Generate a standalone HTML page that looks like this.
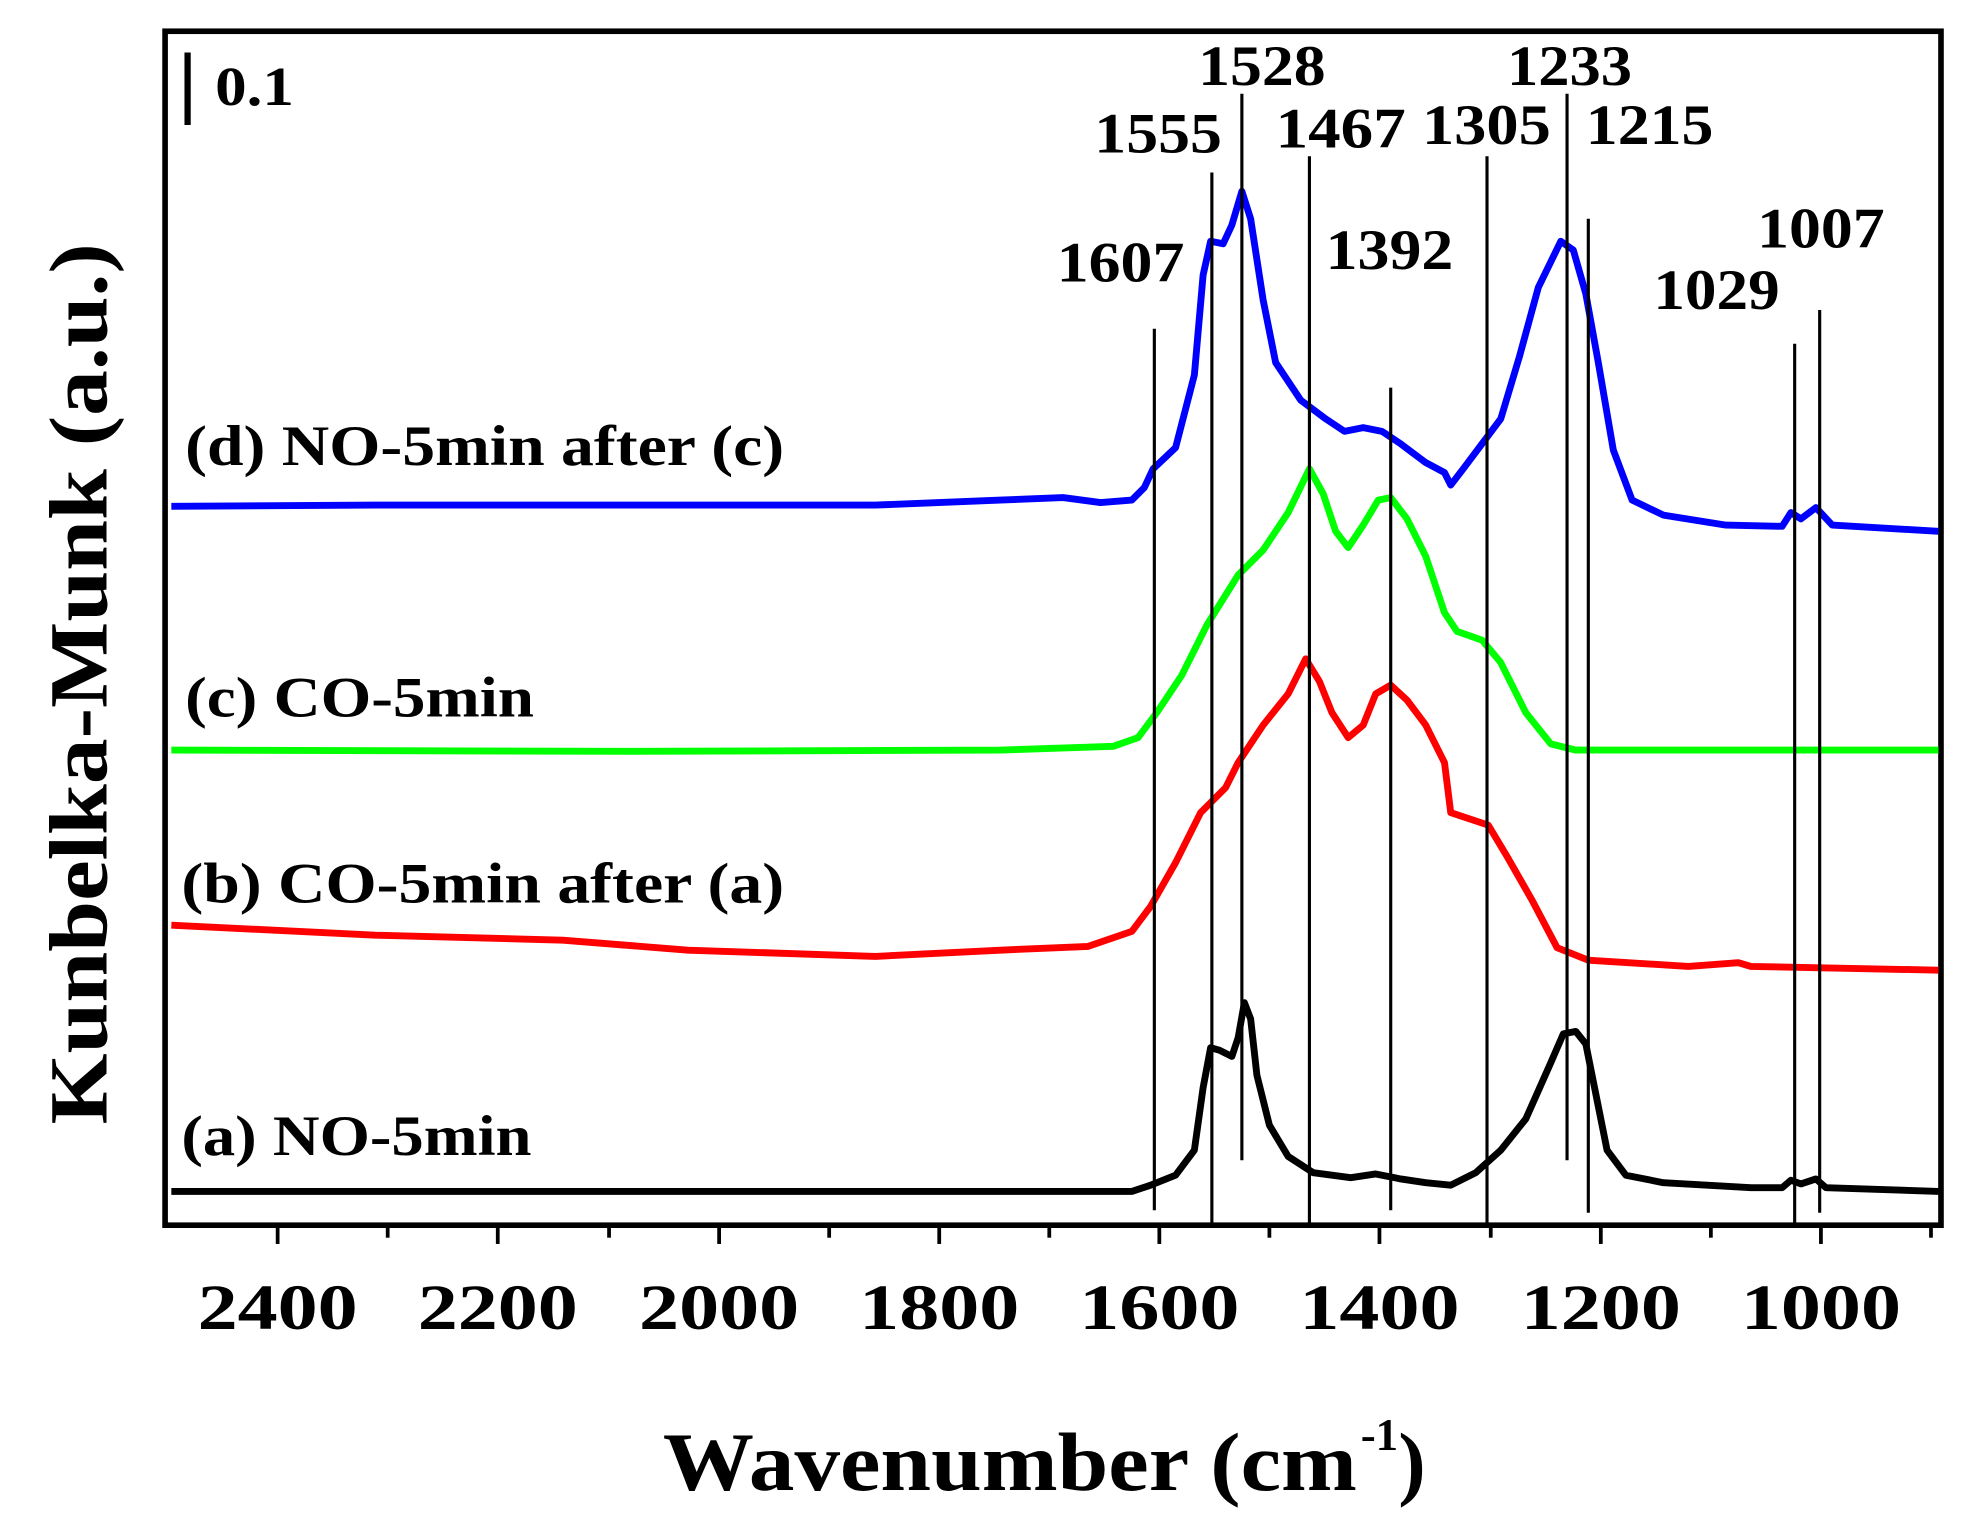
<!DOCTYPE html>
<html><head><style>html,body{margin:0;padding:0;background:#fff}svg{display:block}</style></head>
<body>
<svg width="1961" height="1519" viewBox="0 0 1568 1215" preserveAspectRatio="none" xmlns="http://www.w3.org/2000/svg" font-family="Liberation Serif, serif" font-weight="bold">
<rect x="132" y="25" width="1420" height="955" fill="none" stroke="#000" stroke-width="4.5"/>
<g stroke="#000" stroke-width="3">
<line x1="222" y1="980" x2="222" y2="995"/><line x1="398" y1="980" x2="398" y2="995"/><line x1="575" y1="980" x2="575" y2="995"/><line x1="751" y1="980" x2="751" y2="995"/><line x1="927" y1="980" x2="927" y2="995"/><line x1="1103" y1="980" x2="1103" y2="995"/><line x1="1280" y1="980" x2="1280" y2="995"/><line x1="1456" y1="980" x2="1456" y2="995"/>
<line x1="310" y1="980" x2="310" y2="990"/><line x1="487" y1="980" x2="487" y2="990"/><line x1="663" y1="980" x2="663" y2="990"/><line x1="839" y1="980" x2="839" y2="990"/><line x1="1015" y1="980" x2="1015" y2="990"/><line x1="1192" y1="980" x2="1192" y2="990"/><line x1="1368" y1="980" x2="1368" y2="990"/><line x1="1544" y1="980" x2="1544" y2="990"/>
</g>
<g font-size="52" lengthAdjust="spacingAndGlyphs">
<text x="158" y="1063" textLength="128" lengthAdjust="spacingAndGlyphs">2400</text><text x="334" y="1063" textLength="128" lengthAdjust="spacingAndGlyphs">2200</text><text x="511" y="1063" textLength="128" lengthAdjust="spacingAndGlyphs">2000</text><text x="687" y="1063" textLength="128" lengthAdjust="spacingAndGlyphs">1800</text><text x="863" y="1063" textLength="128" lengthAdjust="spacingAndGlyphs">1600</text><text x="1039" y="1063" textLength="128" lengthAdjust="spacingAndGlyphs">1400</text><text x="1216" y="1063" textLength="128" lengthAdjust="spacingAndGlyphs">1200</text><text x="1392" y="1063" textLength="128" lengthAdjust="spacingAndGlyphs">1000</text>
</g>
<text x="530" y="1192" font-size="66" textLength="555" lengthAdjust="spacingAndGlyphs">Wavenumber (cm</text>
<text x="1088" y="1160" font-size="36">-1</text>
<text x="1118" y="1192" font-size="66">)</text>
<text transform="translate(85,547) rotate(-90)" font-size="66" text-anchor="middle" textLength="705" lengthAdjust="spacingAndGlyphs">Kunbelka-Munk (a.u.)</text>
<line x1="150" y1="42" x2="150" y2="100" stroke="#000" stroke-width="5"/>
<text x="172" y="84" font-size="44" textLength="63" lengthAdjust="spacingAndGlyphs">0.1</text>
<g fill="none" stroke-width="5.5" stroke-linejoin="round">
<polyline stroke="#000" points="137,953 905,953 920,948 940,940 955,920 962,870 968,838 975,840 985,845 990,830 995,802 1000,815 1005,860 1015,900 1030,925 1050,938 1080,942 1100,939 1120,943 1140,946 1160,948 1180,938 1200,920 1220,895 1240,850 1250,827 1260,825 1268,835 1275,870 1285,920 1300,940 1330,946 1400,950 1425,950 1432,944 1440,947 1452,943 1460,950 1550,953"/>
<polyline stroke="#ff0000" points="137,740 300,748 450,752 550,760 700,765 800,760 870,757 905,745 920,725 940,690 960,650 980,630 990,610 1010,580 1030,555 1044,527 1055,545 1065,570 1078,590 1090,580 1100,555 1112,548 1125,560 1140,580 1155,610 1160,650 1175,655 1190,660 1205,685 1225,720 1245,758 1270,768 1350,773 1390,770 1400,773 1550,776"/>
<polyline stroke="#00ff00" points="137,600 500,601 800,600 890,597 910,590 925,570 945,540 965,500 990,460 1010,440 1030,410 1047,375 1058,395 1068,425 1078,438 1090,420 1102,400 1112,398 1125,415 1140,445 1155,490 1165,505 1185,512 1200,530 1220,570 1240,595 1260,600 1550,600"/>
<polyline stroke="#0000ff" points="137,405 300,404 500,404 700,404 800,400 850,398 880,402 905,400 915,390 922,375 940,358 955,300 962,220 968,193 978,195 985,180 993,153 1000,175 1010,240 1020,290 1040,320 1060,335 1075,345 1090,342 1105,345 1120,355 1140,370 1155,378 1160,388 1170,375 1185,355 1200,335 1215,285 1230,230 1248,193 1258,200 1268,235 1278,290 1290,360 1305,400 1330,412 1380,420 1425,421 1432,410 1440,415 1452,406 1465,420 1550,425"/>
</g>
<g stroke="#000" stroke-width="2.5">
<line x1="923" y1="263" x2="923" y2="968"/><line x1="969" y1="138" x2="969" y2="980"/><line x1="993" y1="75" x2="993" y2="928"/><line x1="1047" y1="125" x2="1047" y2="980"/><line x1="1112" y1="310" x2="1112" y2="968"/><line x1="1189" y1="125" x2="1189" y2="978"/><line x1="1253" y1="75" x2="1253" y2="928"/><line x1="1270" y1="175" x2="1270" y2="970"/><line x1="1435" y1="275" x2="1435" y2="980"/><line x1="1455" y1="248" x2="1455" y2="970"/>
</g>
<g font-size="46">
<text x="958" y="68" textLength="102" lengthAdjust="spacingAndGlyphs">1528</text><text x="875" y="122" textLength="102" lengthAdjust="spacingAndGlyphs">1555</text><text x="1020" y="118" textLength="104" lengthAdjust="spacingAndGlyphs">1467</text><text x="1137" y="115" textLength="103" lengthAdjust="spacingAndGlyphs">1305</text><text x="1205" y="68" textLength="100" lengthAdjust="spacingAndGlyphs">1233</text><text x="1268" y="115" textLength="102" lengthAdjust="spacingAndGlyphs">1215</text><text x="845" y="225" textLength="102" lengthAdjust="spacingAndGlyphs">1607</text><text x="1060" y="215" textLength="102" lengthAdjust="spacingAndGlyphs">1392</text><text x="1322" y="247" textLength="101" lengthAdjust="spacingAndGlyphs">1029</text><text x="1405" y="198" textLength="102" lengthAdjust="spacingAndGlyphs">1007</text>
</g>
<g font-size="46">
<text x="148" y="372" textLength="479" lengthAdjust="spacingAndGlyphs">(d) NO-5min after (c)</text><text x="148" y="573" textLength="279" lengthAdjust="spacingAndGlyphs">(c) CO-5min</text><text x="145" y="722" textLength="482" lengthAdjust="spacingAndGlyphs">(b) CO-5min after (a)</text><text x="145" y="924" textLength="280" lengthAdjust="spacingAndGlyphs">(a) NO-5min</text>
</g>
</svg>
</body></html>
